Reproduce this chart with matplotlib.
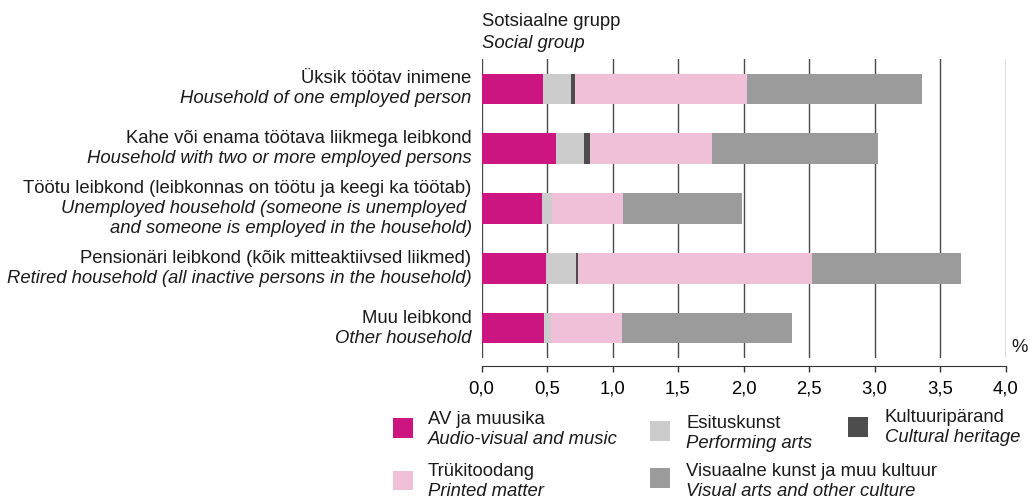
import matplotlib
matplotlib.use('Agg')
import matplotlib.pyplot as plt
import matplotlib.patches as mpatches
import numpy as np

plt.rcParams['font.family'] = ['Liberation Sans', 'DejaVu Sans']
plt.rcParams['font.size'] = 13.3
plt.rcParams['text.color'] = '#1a1a1a'

# Social groups (Estonian / English)
groups_et = ['Üksik töötav inimene',
             'Kahe või enama töötava liikmega leibkond',
             'Töötu leibkond (leibkonnas on töötu ja keegi ka töötab)',
             'Pensionäri leibkond (kõik mitteaktiivsed liikmed)',
             'Muu leibkond']
groups_en = ['Household of one employed person',
             'Household with two or more employed persons',
             'Unemployed household (someone is unemployed \nand someone is employed in the household)',
             'Retired household (all inactive persons in the household)',
             'Other household']

# Shares, %
av_music = [0.47, 0.57, 0.46, 0.49, 0.48]
performing = [0.21, 0.21, 0.08, 0.23, 0.05]
heritage = [0.03, 0.05, 0.0, 0.02, 0.0]
printed = [1.32, 0.93, 0.54, 1.78, 0.54]
visual = [1.33, 1.27, 0.91, 1.14, 1.30]

series_et = ['AV ja muusika', 'Esituskunst', 'Kultuuripärand',
             'Trükitoodang', 'Visuaalne kunst ja muu kultuur']
series_en = ['Audio-visual and music', 'Performing arts', 'Cultural heritage',
             'Printed matter', 'Visual arts and other culture']
colors = ['#cc1580', '#cccccc', '#4d4d4d', '#f0bfd8', '#9b9b9b']

xticks = [0.0, 0.5, 1.0, 1.5, 2.0, 2.5, 3.0, 3.5, 4.0]

W, H = 1030, 501
fig = plt.figure(figsize=(W / 100, H / 100), dpi=100)
ax = fig.add_axes([481.5 / W, 1 - 358 / H, (1005.5 - 481.5) / W, (358 - 59) / H])

# stacked bars
y = np.arange(len(groups_et))
left = np.zeros(len(y))
for vals, c in zip([av_music, performing, heritage, printed, visual], colors):
    ax.barh(y, vals, left=left, height=0.51, color=c, linewidth=0)
    left += np.array(vals)

ax.set_ylim(4.5, -0.5)
ax.set_xlim(0, 4)
ax.set_xticks(xticks)
ax.set_xticklabels([f'{v:.1f}'.replace('.', ',') for v in xticks])
ax.set_yticks([])
ax.xaxis.grid(True, color='#4a4a4a', lw=1.0)
ax.set_axisbelow(True)
for line in ax.get_xgridlines():
    line.set_clip_on(False)
for s in ['top', 'right', 'left']:
    ax.spines[s].set_visible(False)
ax.spines['bottom'].set_position(('outward', 5.4))
ax.spines['bottom'].set_color('#333333')
ax.tick_params(axis='x', length=4.3, width=1, color='#333333', pad=6.5,
               labelsize=13.3)

# category labels, Estonian line then italic English
for i in range(len(groups_et)):
    lines = [groups_et[i]] + groups_en[i].split('\n')
    n = len(lines)
    for k, txt in enumerate(lines):
        off = ((n - 1) / 2 - k) * 20
        ax.annotate(txt, xy=(0, i), xycoords=('axes fraction', 'data'),
                    xytext=(-10, off), textcoords='offset pixels',
                    ha='right', va='center',
                    style='normal' if k == 0 else 'italic')

fig.text(481.5 / W, 1 - 21 / H, 'Sotsiaalne grupp', ha='left', va='center')
fig.text(481.5 / W, 1 - 43 / H, 'Social group', ha='left', va='center',
         style='italic')
fig.text(1020 / W, 1 - 348 / H, '%', ha='center', va='center')

# legend
leg_pos = [(393, 428, 428, 420), (650, 431, 686, 423), (848, 427, 885, 418),
           (393, 480.5, 428, 472), (650, 478, 686, 472)]
sq = 19.5
for (sx, sy, tx, ty), c, et, en in zip(leg_pos, colors, series_et, series_en):
    fig.patches.append(mpatches.Rectangle((sx / W, 1 - (sy + sq / 2) / H),
                                          sq / W, sq / H, color=c, lw=0,
                                          transform=fig.transFigure))
    fig.text(tx / W, 1 - ty / H, et, ha='left', va='center')
    fig.text(tx / W, 1 - (ty + 20) / H, en, ha='left', va='center',
             style='italic')

fig.savefig('out.png', dpi=100)
